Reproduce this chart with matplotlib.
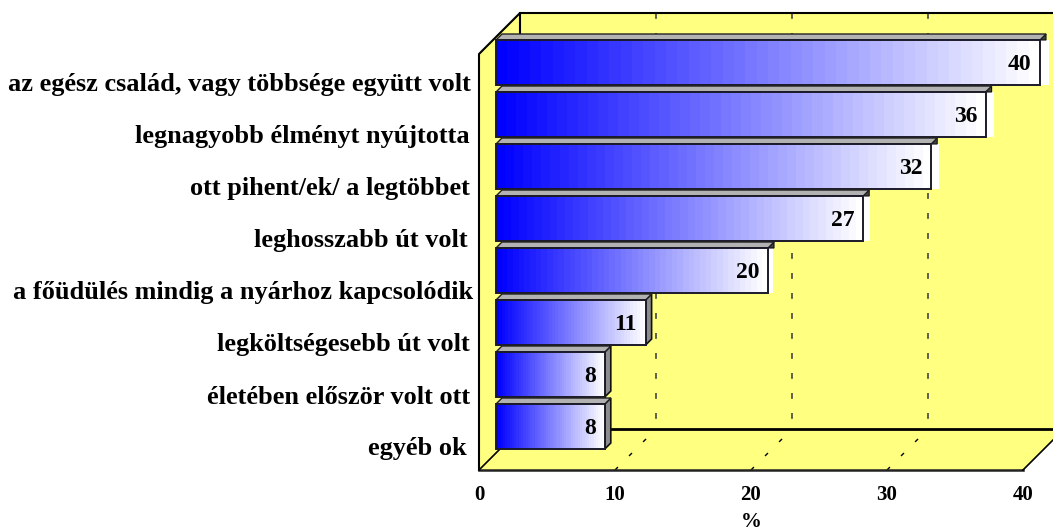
import matplotlib
matplotlib.use("Agg")
import matplotlib.pyplot as plt
import numpy as np
from matplotlib.patches import Polygon, Rectangle

labels = [
    "az egész család, vagy többsége együtt volt",
    "legnagyobb élményt nyújtotta",
    "ott pihent/ek/ a legtöbbet",
    "leghosszabb út volt",
    "a főüdülés mindig a nyárhoz kapcsolódik",
    "legköltségesebb út volt",
    "életében először volt ott",
    "egyéb ok",
]
values = [40, 36, 32, 27, 20, 11, 8, 8]
ticks = [0, 10, 20, 30, 40]

W, H = 1053, 531
PX_PER_UNIT = 13.6
PX_PER_ROW = 52.0
X0_PX = 479.0
ROW0_PX = 62.5
WALL = "#ffff80"
label_right_px = [471, 470, 470, 468, 473, 470, 470, 467]

plt.rcParams["font.family"] = ["Liberation Serif", "DejaVu Serif"]
plt.rcParams["font.weight"] = "bold"

fig = plt.figure(figsize=(W / 100, H / 100), dpi=100)
ax = fig.add_axes([0, 0, 1, 1])
ax.axis("off")


def dx(px):
    return px / PX_PER_UNIT


def dy(px):
    return px / PX_PER_ROW


# chart box, in value units and rows
DEPTH = dx(41)
FRONT_TOP = (54 - ROW0_PX) / PX_PER_ROW
FLOOR = (470 - ROW0_PX) / PX_PER_ROW
BACK_TOP = (13 - ROW0_PX) / PX_PER_ROW
BACK_FLOOR = (429 - ROW0_PX) / PX_PER_ROW
XMAX = ticks[-1]
RIGHT = (W - X0_PX) / PX_PER_UNIT
CUT = W - (X0_PX + XMAX * PX_PER_UNIT)

ax.add_patch(Polygon([(DEPTH, BACK_TOP), (RIGHT, BACK_TOP), (RIGHT, BACK_FLOOR), (DEPTH, BACK_FLOOR)],
                     facecolor=WALL, edgecolor="none", zorder=1))
ax.add_patch(Polygon([(0, FRONT_TOP), (DEPTH, BACK_TOP), (DEPTH, BACK_FLOOR), (0, FLOOR)],
                     facecolor=WALL, edgecolor="none", zorder=1))
ax.add_patch(Polygon([(0, FLOOR), (DEPTH, BACK_FLOOR), (RIGHT, BACK_FLOOR),
                      (RIGHT, FLOOR - dy(CUT)), (XMAX, FLOOR)],
                     facecolor=WALL, edgecolor="none", zorder=1))

# gridlines on back wall and floor
for t in ticks[1:-1]:
    ax.plot([t + DEPTH, t + DEPTH], [BACK_TOP, BACK_FLOOR], color="#444444", lw=1.2,
            linestyle=(0, (3.5, 8.5)), zorder=2)
    ax.plot([t, t + DEPTH], [FLOOR, BACK_FLOOR], color="black", lw=1.0,
            linestyle=(0, (3, 11.3)), zorder=2)

# box outline
ax.plot([0, 0, DEPTH, RIGHT], [FLOOR, FRONT_TOP, BACK_TOP, BACK_TOP], color="black", lw=1.5, zorder=3)
ax.plot([DEPTH, DEPTH], [BACK_TOP, BACK_FLOOR], color="black", lw=1.5, zorder=3)
ax.plot([0, XMAX], [FLOOR, FLOOR], color="#222222", lw=1.8, zorder=3)
ax.plot([XMAX, RIGHT], [FLOOR, FLOOR - dy(CUT)], color="black", lw=1.2, zorder=3)
ax.plot([0, DEPTH], [FLOOR, BACK_FLOOR], color="black", lw=1.2, zorder=3)
ax.plot([DEPTH, RIGHT], [BACK_FLOOR, BACK_FLOOR], color="black", lw=2, zorder=3)

# bars
BAR_X0 = dx(17)
BAR_H = 45 / PX_PER_ROW
SKEW_X, SKEW_Y = dx(6), dy(6)
n_bands = 48
frac = np.linspace(0, 1, n_bands)
gradient = np.ones((1, n_bands, 3))
gradient[0, :, 0] = frac
gradient[0, :, 1] = frac

for i, v in enumerate(values):
    x1 = BAR_X0 + v
    top = i - BAR_H / 2
    bot = i + BAR_H / 2
    z = 5 + i
    if v >= 20:
        # wide bars: pale side face with a dark corner
        side = dx(5 + (v - 20) / 5)
        ax.add_patch(Rectangle((x1, top), side, BAR_H, facecolor="white", edgecolor="none", zorder=z))
        ax.add_patch(Polygon([(x1, top), (x1 + SKEW_X, top - SKEW_Y), (x1 + SKEW_X, top)],
                             facecolor="#444444", edgecolor="#111111", lw=0.8, zorder=z))
    else:
        ax.add_patch(Polygon([(x1, top), (x1 + SKEW_X, top - SKEW_Y), (x1 + SKEW_X, bot - SKEW_Y), (x1, bot)],
                             facecolor="#8c8c8c", edgecolor="#111111", lw=1.2, zorder=z))
    ax.add_patch(Polygon([(BAR_X0, top), (BAR_X0 + SKEW_X, top - SKEW_Y), (x1 + SKEW_X, top - SKEW_Y), (x1, top)],
                         facecolor="#b2b2b2", edgecolor="#222222", lw=1.0, zorder=z))
    ax.imshow(gradient, extent=(BAR_X0, x1, bot, top), aspect="auto", interpolation="nearest", zorder=z)
    ax.add_patch(Rectangle((BAR_X0, top), v, BAR_H, facecolor="none", edgecolor="#1a1a2a", lw=1.4, zorder=z + 0.5))
    ax.text(x1 - dx(8.5), i + dy(2), str(v), ha="right", va="center", fontsize=17, zorder=z + 1)
    ax.text((label_right_px[i] - X0_PX) / PX_PER_UNIT, i + dy(22.5), labels[i],
            ha="right", va="center", fontsize=18.9)

ax.set_xlim(-X0_PX / PX_PER_UNIT, (W - X0_PX) / PX_PER_UNIT)
ax.set_ylim((H - ROW0_PX) / PX_PER_ROW, -ROW0_PX / PX_PER_ROW)

for t in ticks:
    ax.text(t, (494.5 - ROW0_PX) / PX_PER_ROW, str(t), ha="center", va="center", fontsize=15)
ax.text(20, (522 - ROW0_PX) / PX_PER_ROW, "%", ha="center", va="center", fontsize=15)

fig.savefig("out.png", dpi=100)
